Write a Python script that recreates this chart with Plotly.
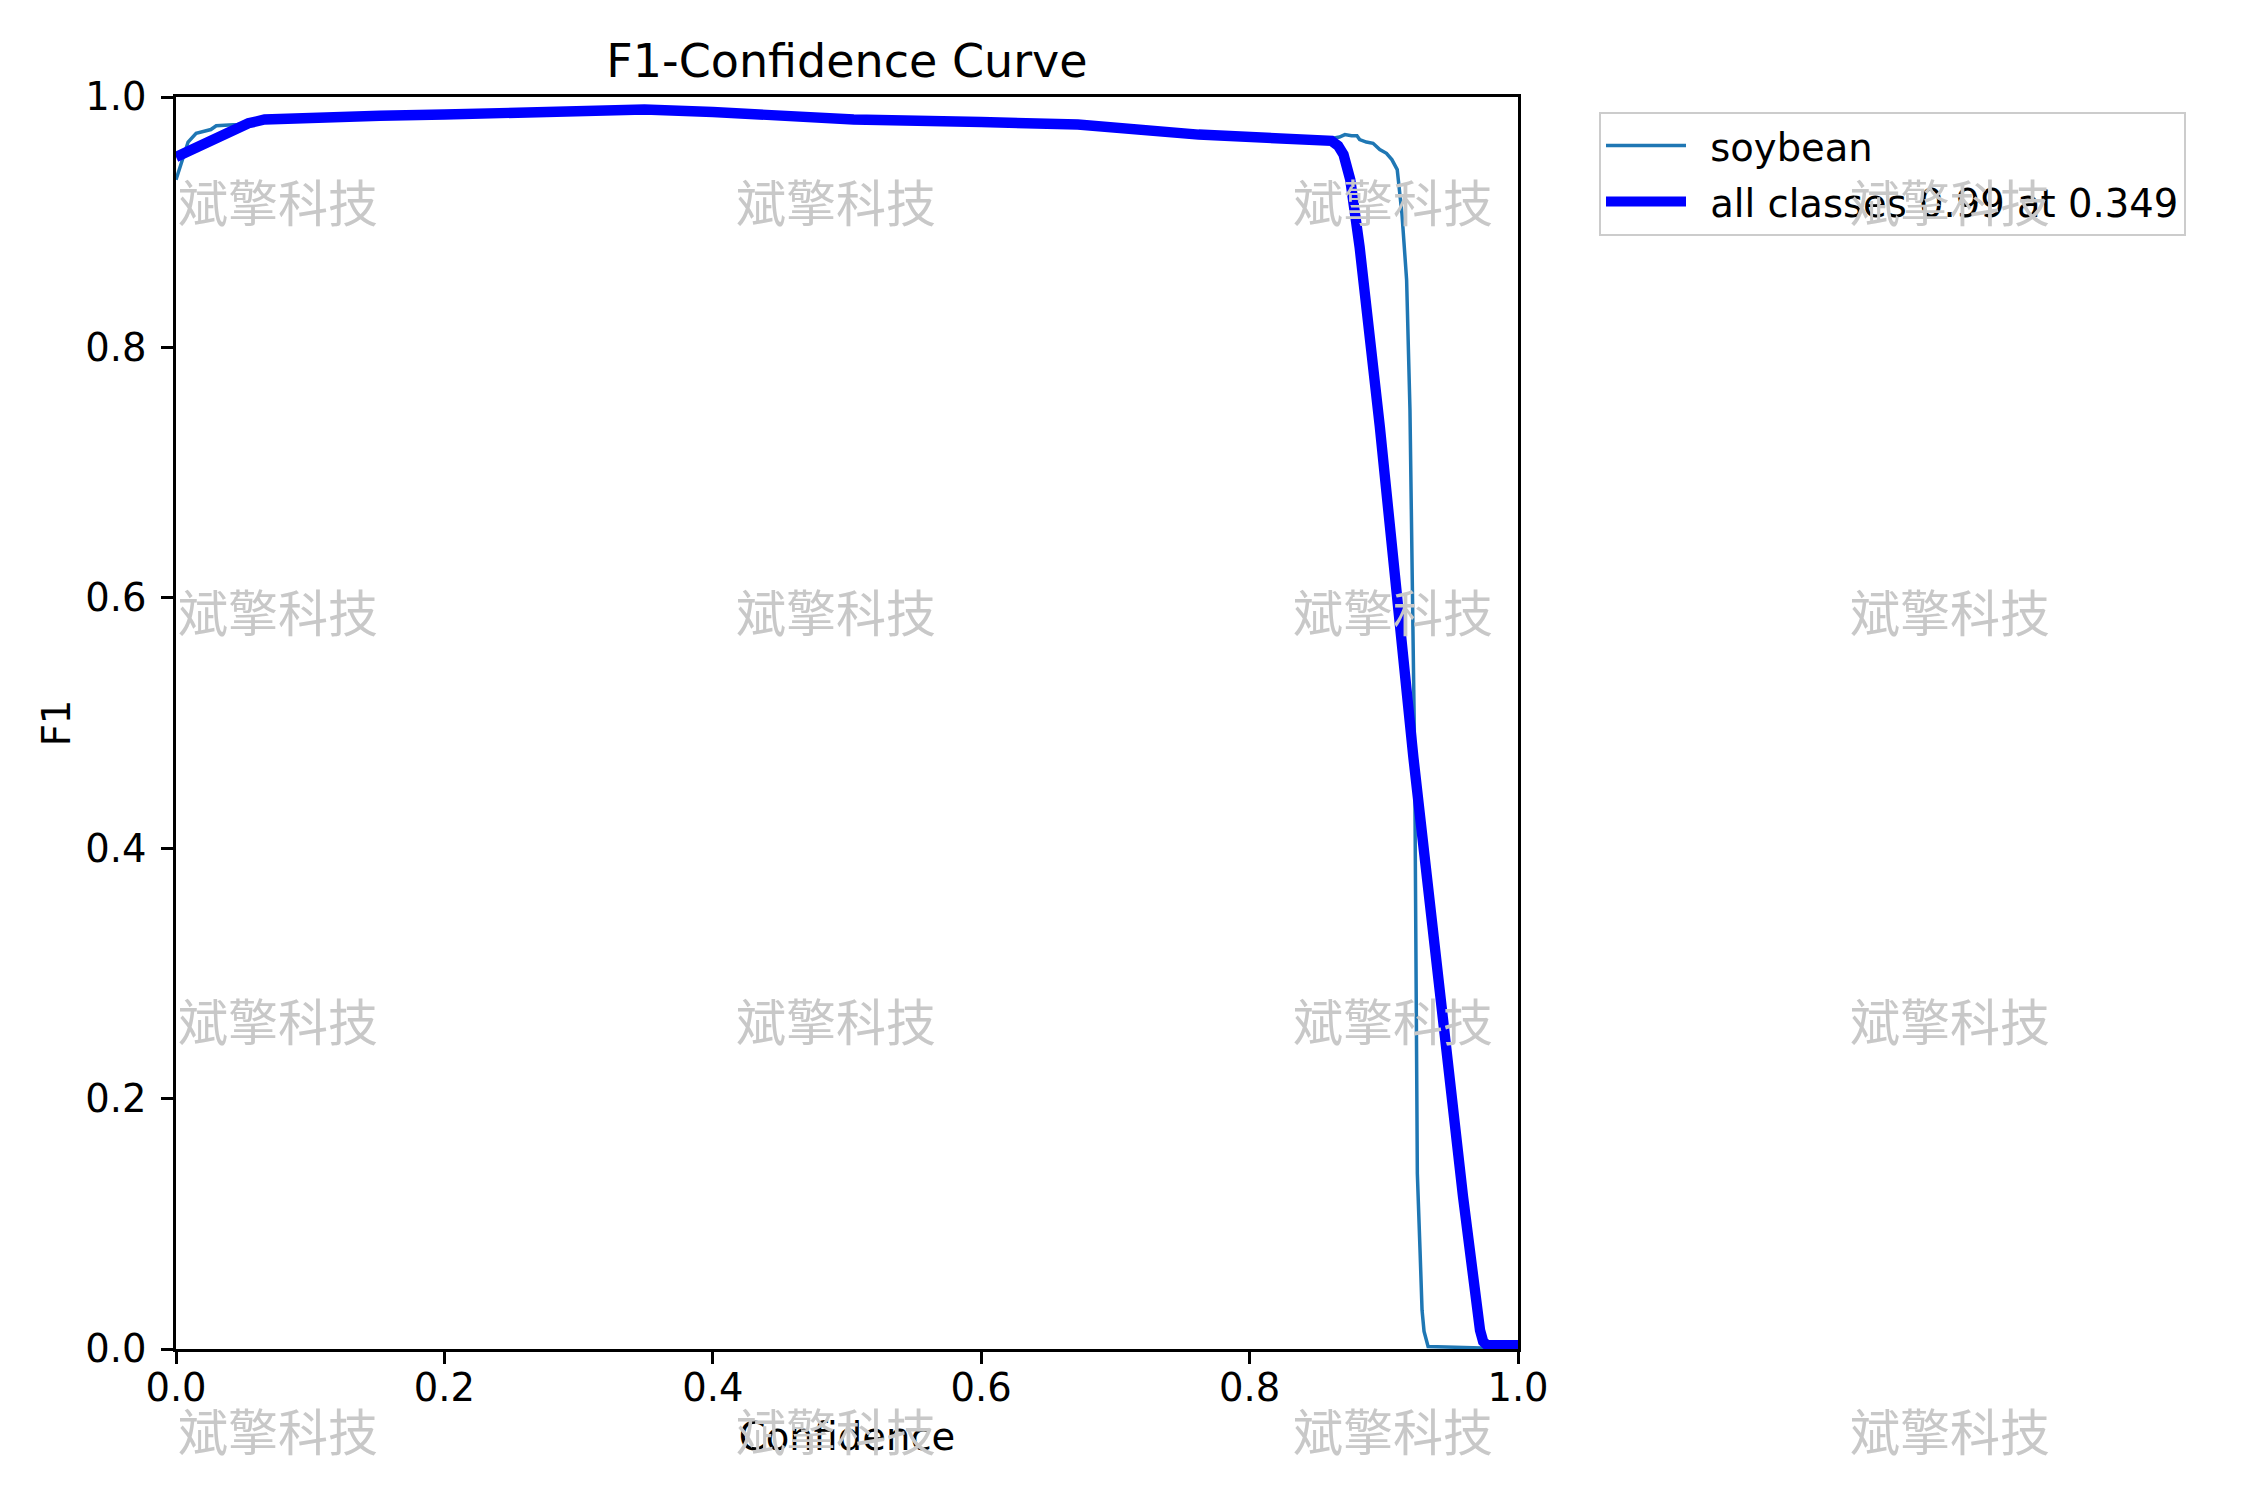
import plotly.graph_objects as go

# ------------------------------------------------------------
# data
# ------------------------------------------------------------
# per-class curve: soybean
soy_conf = [0.000, 0.004, 0.009, 0.015, 0.026, 0.030, 0.046, 0.066, 0.100, 0.152,
            0.200, 0.266, 0.349, 0.400, 0.458, 0.505, 0.600, 0.672, 0.762, 0.820,
            0.851, 0.862, 0.867, 0.871, 0.876, 0.880, 0.882, 0.887, 0.892, 0.897,
            0.902, 0.906, 0.910, 0.9135, 0.917, 0.9195, 0.923, 0.925, 0.927, 0.9285,
            0.930, 0.933, 1.000]
soy_f1 = [0.934, 0.947, 0.964, 0.971, 0.974, 0.977, 0.978, 0.982, 0.984, 0.985,
          0.986, 0.987, 0.989, 0.988, 0.984, 0.982, 0.980, 0.978, 0.970, 0.968,
          0.967, 0.967, 0.968, 0.970, 0.969, 0.969, 0.966, 0.964, 0.963, 0.958,
          0.955, 0.950, 0.942, 0.907, 0.854, 0.750, 0.473, 0.140, 0.079, 0.031,
          0.014, 0.002, 0.000]

# all classes (smoothed mean)
all_conf = [0.000, 0.054, 0.066, 0.100, 0.152, 0.200, 0.266, 0.349, 0.400, 0.458,
            0.505, 0.600, 0.672, 0.762, 0.820, 0.851, 0.861, 0.866, 0.870, 0.875,
            0.882, 0.897, 0.922, 0.959, 0.9665, 0.970, 0.9717, 0.974, 0.977, 1.000]
all_f1 = [0.952, 0.979, 0.982, 0.984, 0.985, 0.986, 0.987, 0.990, 0.988, 0.984,
          0.982, 0.980, 0.978, 0.970, 0.968, 0.967, 0.965, 0.961, 0.954, 0.934,
          0.880, 0.737, 0.473, 0.122, 0.053, 0.028, 0.015, 0.006, 0.003, 0.003]

SOY_LABEL = "soybean"
ALL_LABEL = "all classes 0.99 at 0.349"
TICKS = [0.0, 0.2, 0.4, 0.6, 0.8, 1.0]
WATERMARK = "斌擎科技"

# ------------------------------------------------------------
# layout constants (pixels in the 2250x1500 canvas)
# ------------------------------------------------------------
W, H = 2250, 1500
PL, PR, PT, PB = 176, 1518, 97, 1349
FONT = "DejaVu Sans, Liberation Sans, Arial"
CJK_FONT = "Noto Sans CJK SC"
FS = 38.5          # tick / label / legend font size
TITLE_FS = 46
WM_X = [278, 836, 1393, 1950]
WM_Y = [200, 610, 1019, 1429]
GAP = "\u2002"     # extra space between legend line sample and its text


def px_to_paper(x, y):
    return (x - PL) / (PR - PL), (PB - y) / (PB - PT)


fig = go.Figure()

fig.add_trace(go.Scatter(
    x=soy_conf, y=soy_f1, mode="lines", name=GAP + SOY_LABEL, legendgroup="soy",
    line=dict(color="#1f77b4", width=3.5),
))
fig.add_trace(go.Scatter(
    x=all_conf, y=all_f1, mode="lines", name=GAP + ALL_LABEL, legendgroup="all",
    line=dict(color="#0000ff", width=10.4),
))

# watermark grid
for wy in WM_Y:
    for wx in WM_X:
        ax_, ay_ = px_to_paper(wx, wy)
        fig.add_annotation(
            x=ax_, y=ay_, xref="paper", yref="paper",
            text=WATERMARK, showarrow=False,
            xanchor="center", yanchor="middle",
            font=dict(family=CJK_FONT, size=50, color="rgb(200,200,200)"),
        )

axis_common = dict(
    range=[0, 1],
    tickvals=TICKS,
    ticktext=[f"{t:.1f}" for t in TICKS],
    ticks="outside", ticklen=12, tickwidth=2.8, tickcolor="black",
    showline=True, linecolor="black", linewidth=2.8, mirror=True,
    showgrid=False, zeroline=False,
    tickfont=dict(family=FONT, size=FS, color="black"),
)

fig.update_xaxes(
    **axis_common,
    ticklabelstandoff=-9,
    title=dict(text="Confidence", font=dict(family=FONT, size=FS, color="black"), standoff=14),
)
fig.update_yaxes(
    **axis_common,
    ticklabelstandoff=7,
    title=dict(text="F1", font=dict(family=FONT, size=FS, color="black"), standoff=3),
)

lx, ly = px_to_paper(1599, 112)
fig.update_layout(
    width=W, height=H, autosize=False,
    margin=dict(l=PL, r=W - PR, t=PT, b=H - PB, pad=0),
    paper_bgcolor="white", plot_bgcolor="white",
    font=dict(family=FONT, size=FS, color="black"),
    title=dict(
        text="F1-Confidence Curve",
        x=(PL + PR) / 2 / W, xanchor="center",
        y=1 - 61 / H, yanchor="middle",
        font=dict(family=FONT, size=TITLE_FS, color="black"),
    ),
    legend=dict(
        x=lx, y=ly, xanchor="left", yanchor="top",
        bgcolor="rgba(255,255,255,0.8)", bordercolor="#cccccc", borderwidth=2,
        font=dict(family=FONT, size=FS, color="black"),
        itemwidth=80, tracegroupgap=3,
    ),
    showlegend=True,
)

fig.write_html("out.html", config={"displayModeBar": False},
               post_script="document.body.style.margin='0';")
